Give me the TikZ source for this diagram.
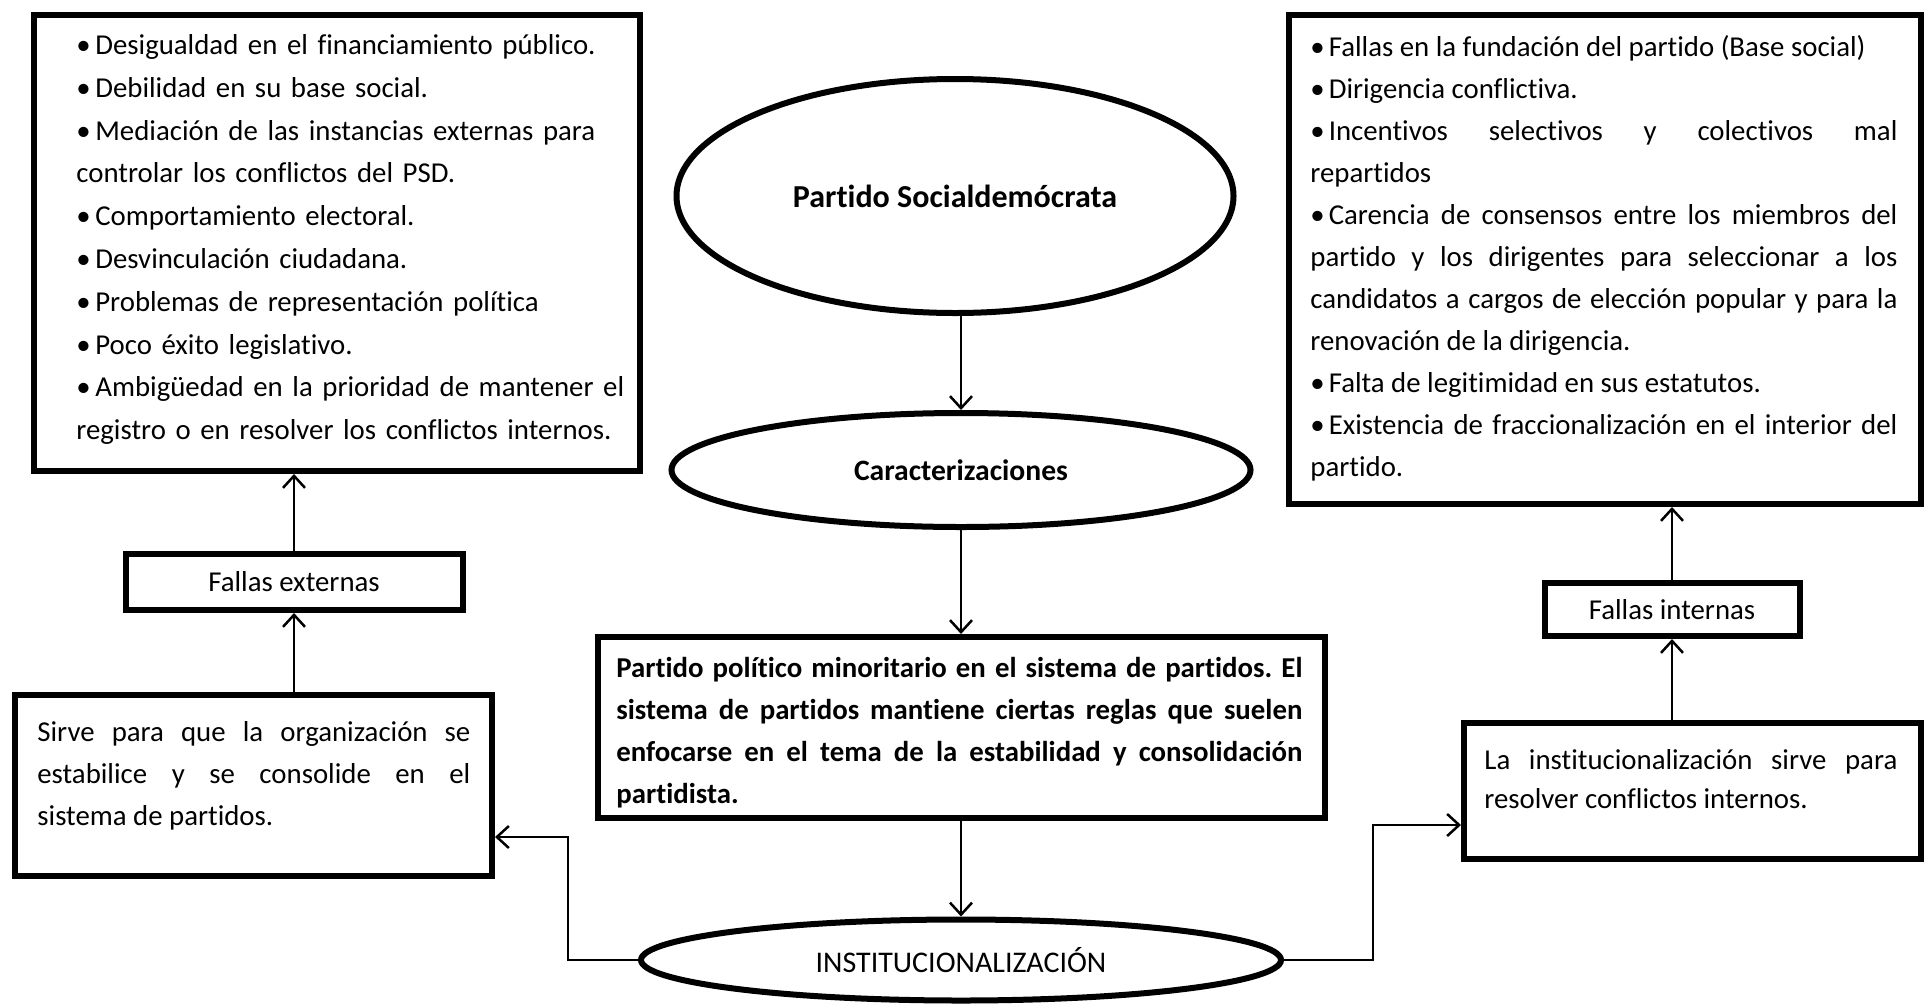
\documentclass[tikz,border=0pt]{standalone}
\usepackage{fontspec}
\setmainfont{Carlito}[Ligatures=NoCommon]
\usetikzlibrary{shapes.geometric,arrows.meta}
\frenchspacing
\newcommand{\parsetup}{\frenchspacing\tolerance=10000 \hbadness=10000 \hyphenpenalty=10000 \exhyphenpenalty=10000 \emergencystretch=0pt}
\newcommand{\bA}{•\kern0.16em}
\newcommand{\bB}{•\kern0.14em}
\begin{document}
\begin{tikzpicture}[x=0.5pt,y=-0.5pt,
  box/.style={draw,line width=3pt,rectangle,inner sep=0pt,fill=white,font=\fontsize{14.4pt}{17pt}\selectfont},
  oval/.style={draw,line width=3pt,ellipse,inner sep=0pt,fill=white,font=\fontsize{14.4pt}{17pt}\selectfont},
  txt/.style={inner sep=0pt,anchor=base west,align=justify,font=\fontsize{14.4pt}{21pt}\selectfont\parsetup},
  arr/.style={line width=1.25pt,-{Straight Barb[length=6pt,width=11pt,line width=1.25pt]}},
]
\path[use as bounding box,fill=white] (0,0) rectangle (1931,1007);

% boxes
\node[box,minimum width=303pt,minimum height=228pt] (tl) at (337,243) {};
\node[box,minimum width=168.5pt,minimum height=28pt] (fe) at (294,582) {Fallas externas};
\node[box,minimum width=238.5pt,minimum height=90.5pt] (sirve) at (253.5,785.5) {};
\node[box,minimum width=316pt,minimum height=244.5pt] (tr) at (1605,259.5) {};
\node[box,minimum width=127.5pt,minimum height=26.5pt] (fi) at (1672,609.5) {Fallas internas};
\node[box,minimum width=228.5pt,minimum height=68pt] (li) at (1692.5,791) {};
\node[box,minimum width=363.5pt,minimum height=90.5pt] (mid) at (961,727.5) {};

% ellipses
\node[oval,minimum width=278.5pt,minimum height=117pt,font=\fontsize{16pt}{19pt}\selectfont\bfseries] (psd) at (955,196) {Partido Socialdemócrata};
\node[oval,minimum width=289.5pt,minimum height=57pt,font=\fontsize{14.8pt}{17pt}\selectfont\bfseries] (car) at (961,470) {Caracterizaciones};
\node[oval,minimum width=320pt,minimum height=40.5pt,font=\fontsize{15pt}{17pt}\selectfont] (inst) at (961,960) {INSTITUCIONALIZACIÓN};

% texts
\node[txt,align=left,text width=290pt,font=\fontsize{14.4pt}{21.4pt}\selectfont\parsetup] (tltxt) at (76,54.5) {\bA Desigualdad en el financiamiento público.\\
\bA Debilidad en su base social.\\
\bA Mediación de las instancias externas para\\
controlar los conflictos del PSD.\\
\bA Comportamiento electoral.\\
\bA Desvinculación ciudadana.\\
\bA Problemas de representación política\\
\bA Poco éxito legislativo.\\
\bA Ambigüedad en la prioridad de mantener el\\
registro o en resolver los conflictos internos.};

\node[txt,text width=293.5pt] (trtxt) at (1310,56.5) {\bB Fallas en la fundación del partido (Base social)\\
\bB Dirigencia conflictiva.\\
\bB Incentivos selectivos y colectivos mal\linebreak
repartidos\\
\bB Carencia de consensos entre los miembros del\linebreak
partido y los dirigentes para seleccionar a los\linebreak
candidatos a cargos de elección popular y para la\linebreak
renovación de la dirigencia.\\
\bB Falta de legitimidad en sus estatutos.\\
\bB Existencia de fraccionalización en el interior del\linebreak
partido.};

\node[txt,text width=216.5pt] (sirvetxt) at (37,741) {Sirve para que la organización se\linebreak
estabilice y se consolide en el\linebreak
sistema de partidos.};

\node[txt,text width=206.5pt,font=\fontsize{14.4pt}{19.8pt}\selectfont\parsetup] (litxt) at (1484,769) {La institucionalización sirve para\linebreak
resolver conflictos internos.};

\node[txt,text width=343pt,font=\fontsize{14.4pt}{21pt}\selectfont\bfseries\parsetup] (midtxt) at (616,677) {Partido político minoritario en el sistema de partidos. El\linebreak
sistema de partidos mantiene ciertas reglas que suelen\linebreak
enfocarse en el tema de la estabilidad y consolidación\linebreak
partidista.};

% connectors
\coordinate (lk) at (568,837);
\coordinate (rk) at (1373,825);
\draw[arr] (psd.south -| car.north) -- (car.north);
\draw[arr] (car.south) -- (mid.north);
\draw[arr] (mid.south) -- (inst.north);
\draw[arr] (inst.west) -| (lk) -- (lk -| sirve.east);
\draw[arr] (inst.east) -| (rk) -- (rk -| li.west);
\draw[arr] (fe.south |- sirve.north) -- (fe.south);
\draw[arr] (fe.north) -- (fe.north |- tl.south);
\draw[arr] (fi.south |- li.north) -- (fi.south);
\draw[arr] (fi.north) -- (fi.north |- tr.south);
\end{tikzpicture}
\end{document}
